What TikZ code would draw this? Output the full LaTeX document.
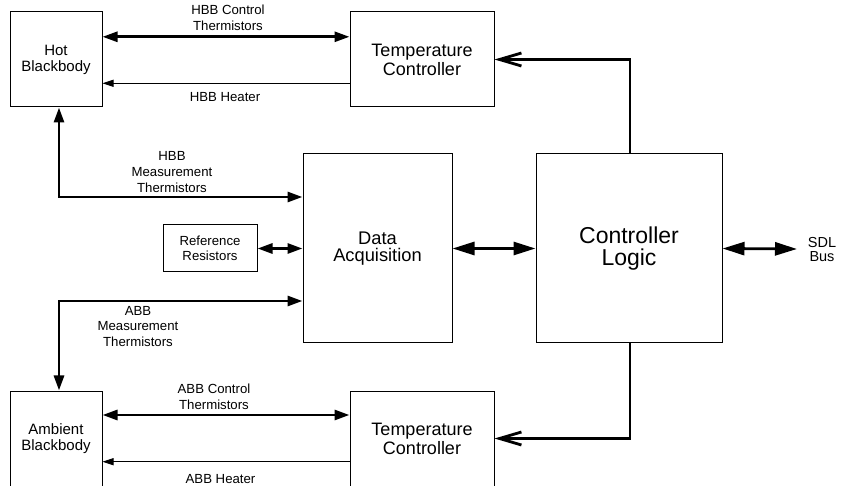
\documentclass[tikz,border=0pt]{standalone}
\usepackage{fontspec}
\setmainfont{Liberation Sans}
\usetikzlibrary{arrows.meta, positioning, calc}

\begin{document}
\begin{tikzpicture}[x=1pt, y=-1pt,
  blk/.style={draw, line width=1pt, inner sep=0pt, align=center},
  lbl/.style={font=\fontsize{13.2}{15.8}\selectfont, align=center, inner sep=0pt},
  bus/.style={line width=2.8pt, {Triangle[length=15pt,width=10pt]}-{Triangle[length=15pt,width=10pt]}},
  mainbus/.style={line width=2.8pt, {Triangle[length=22pt,width=13pt]}-{Triangle[length=22pt,width=13pt]}},
  heat/.style={line width=1pt, -{Triangle[length=11pt,width=7pt]}},
  ctl/.style={line width=2.8pt, -{Straight Barb[length=22pt,width=13pt]}}
]
\useasboundingbox (0,0) rectangle (841,486);

% ── Blocks ──────────────────────────────────────────────
\node[blk, minimum width=92pt, minimum height=95pt, font=\fontsize{15}{16}\selectfont] (hbb) at (56,59.5) {Hot\\Blackbody};
\node[blk, minimum width=144pt, minimum height=95pt, font=\fontsize{18}{19}\selectfont] (tc1) at (422,59.5) {Temperature\\Controller};
\node[blk, minimum width=149pt, minimum height=189pt, font=\fontsize{18.3}{17.5}\selectfont] (daq) at (377.5,248.5) {Data\\Acquisition};
\node[blk, minimum width=94pt, minimum height=47pt, font=\fontsize{13.2}{15.5}\selectfont] (ref) at (210,248.5) {Reference\\Resistors};
\node[blk, minimum width=186pt, minimum height=189pt, font=\fontsize{23}{22}\selectfont] (cl) at (629,248.5) {Controller\\Logic};
\node[blk, minimum width=92pt, minimum height=95pt, font=\fontsize{15}{15.5}\selectfont] (abb) at (56,438.5) {Ambient\\Blackbody};
\node[blk, minimum width=144pt, minimum height=95pt, font=\fontsize{18}{19}\selectfont] (tc2) at (422,438.5) {Temperature\\Controller};
\node[lbl, font=\fontsize{14.5}{14}\selectfont] (sdl) at (822,250) {SDL\\Bus};
\coordinate (sdlend) at (797,249);

% ── Hot blackbody loop ──────────────────────────────────
\draw[bus] ([yshift=22.7pt]hbb.east) -- ([yshift=22.7pt]tc1.west);
\draw[heat] ([yshift=-23.8pt]tc1.west) -- ([yshift=-23.8pt]hbb.east);
\node[lbl] (hbbctl) at (228,18) {HBB Control\\Thermistors};
\node[lbl] (hbbht) at (225,97) {HBB Heater};
\draw[bus] ([xshift=3pt]hbb.south) |- ([yshift=51.5pt]daq.west);
\node[lbl] (hbbmeas) at (172,172) {HBB\\Measurement\\Thermistors};

% ── Data acquisition ────────────────────────────────────
\draw[bus] (ref.east) -- (ref.east -| daq.west);
\draw[mainbus] (daq.east) -- (cl.west);
\draw[mainbus] (cl.east) -- (sdlend);

% ── Ambient blackbody loop ──────────────────────────────
\draw[bus] ([yshift=-52.5pt]daq.west) -| ([xshift=3pt]abb.north);
\node[lbl] (abbmeas) at (138,326.5) {ABB\\Measurement\\Thermistors};
\draw[bus] ([yshift=23.5pt]abb.east) -- ([yshift=23.5pt]tc2.west);
\draw[heat] ([yshift=-23.2pt]tc2.west) -- ([yshift=-23.2pt]abb.east);
\node[lbl] (abbctl) at (214,396.6) {ABB Control\\Thermistors};
\node[lbl] (abbht) at (220.5,479.5) {ABB Heater};

% ── Controller outputs ──────────────────────────────────
\draw[ctl] ([xshift=1pt]cl.north) |- (tc1.east);
\draw[ctl] ([xshift=1pt]cl.south) |- (tc2.east);

\end{tikzpicture}
\end{document}
